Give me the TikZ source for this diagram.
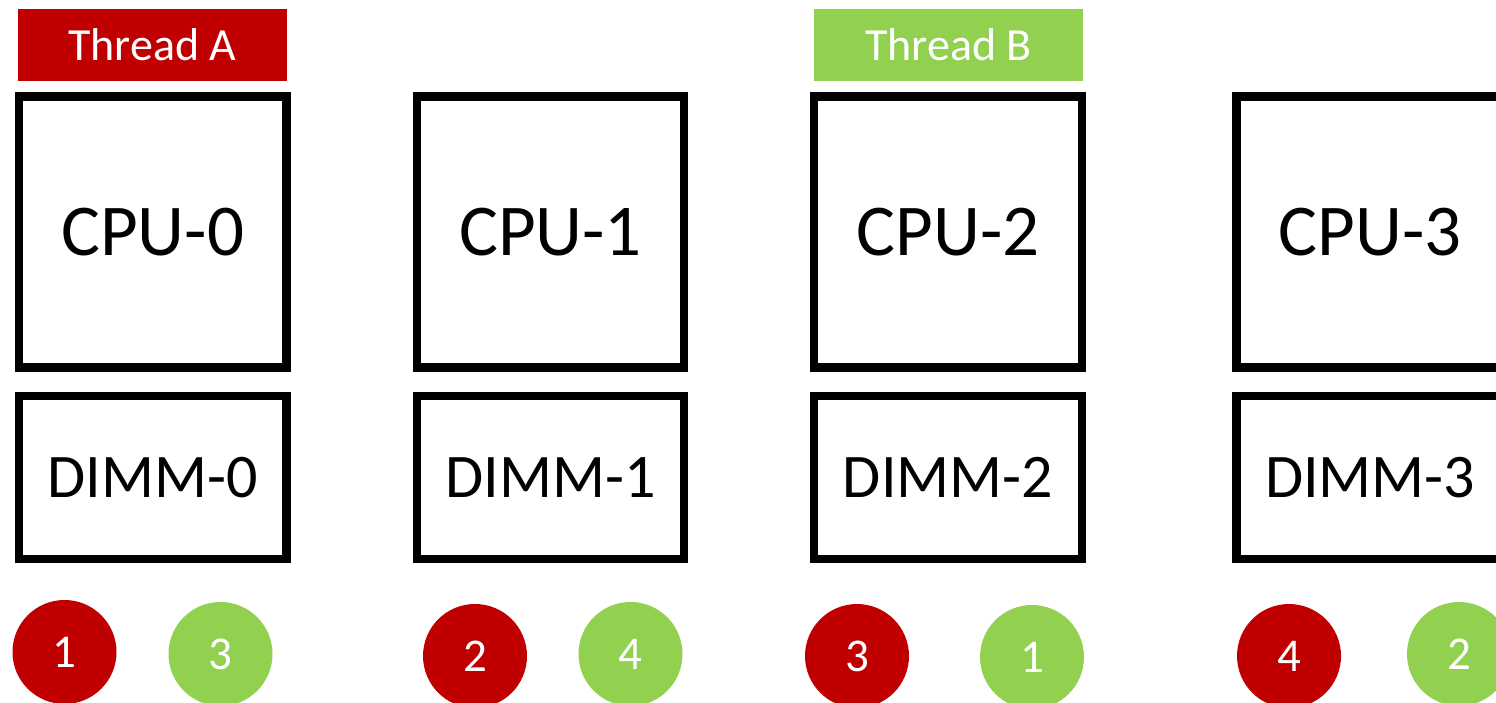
\documentclass[tikz,border=0pt]{standalone}
\usepackage{fontspec}
\setmainfont{Carlito}
\definecolor{thrA}{HTML}{C00000}
\definecolor{thrB}{HTML}{92D050}
\begin{document}
\begin{tikzpicture}[x=1pt,y=-1pt,
  cpubox/.style={draw=black,line width=8.3pt,fill=white,minimum width=267.5pt,minimum height=271pt,inner sep=0pt,
    font=\fontsize{73}{80}\selectfont},
  dimmbox/.style={draw=black,line width=8.3pt,fill=white,minimum width=267.5pt,minimum height=163pt,inner sep=0pt,
    font=\fontsize{62}{68}\selectfont},
  threadtag/.style={minimum width=269pt,minimum height=72pt,inner sep=0pt,text=white,
    font=\fontsize{46}{50}\selectfont},
  stepdot/.style={circle,minimum size=104pt,inner sep=0pt,text=white,
    font=\fontsize{47}{52}\selectfont},
  reddot/.style={stepdot,fill=thrA},
  greendot/.style={stepdot,fill=thrB}]
\useasboundingbox (0,0) rectangle (1496,703);
\begin{scope}
\clip (0,0) rectangle (1496,703);
% thread labels
\node[threadtag,fill=thrA] (ta) at (152.5,45) {Thread A};
\node[threadtag,fill=thrB] (tb) at (948.5,45) {Thread B};
% processors
\node[cpubox] (cpu0) at (152.75,232) {CPU-0};
\node[cpubox] (cpu1) at (550.5,232) {CPU-1};
\node[cpubox] (cpu2) at (948,232) {CPU-2};
\node[cpubox] (cpu3) at (1370.25,232) {CPU-3};
% memory modules
\node[dimmbox] (dimm0) at (152.75,477.5) {DIMM-0};
\node[dimmbox] (dimm1) at (550.5,477.5) {DIMM-1};
\node[dimmbox] (dimm2) at (948,477.5) {DIMM-2};
\node[dimmbox] (dimm3) at (1370.25,477.5) {DIMM-3};
% access order of each thread
\node[reddot] (a1) at (64.5,652) {1};
\node[greendot] (b3) at (220.5,654) {3};
\node[reddot] (a2) at (475,656) {2};
\node[greendot] (b4) at (630.5,654) {4};
\node[reddot] (a3) at (857,656) {3};
\node[greendot] (b1) at (1032,657) {1};
\node[reddot] (a4) at (1289,656) {4};
\node[greendot] (b2) at (1459,654) {2};
\end{scope}
\end{tikzpicture}
\end{document}
